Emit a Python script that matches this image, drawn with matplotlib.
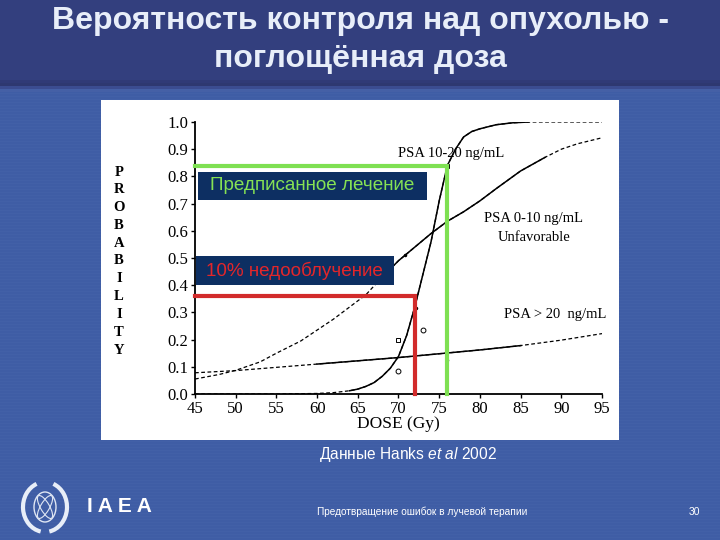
import numpy as np
import matplotlib
matplotlib.use("Agg")
from matplotlib import pyplot as plt
from matplotlib.patches import Rectangle, Ellipse, Arc

plt.rcParams["mathtext.fontset"] = "custom"
plt.rcParams["mathtext.rm"] = "Liberation Sans"
plt.rcParams["mathtext.it"] = "Liberation Sans:italic"

# data
psa_hi_dose = [45, 50, 55, 60, 62, 64, 65, 66, 67, 68, 69, 70, 71, 72, 73, 74,
               75, 76, 77, 78, 79, 80, 82, 84, 86, 90, 95]
psa_hi_prob = [0.0, 0.0, 0.0, 0.002, 0.005, 0.012, 0.018, 0.028, 0.042, 0.065,
               0.095, 0.138, 0.215, 0.32, 0.44, 0.56, 0.71, 0.84, 0.9, 0.945,
               0.965, 0.975, 0.99, 0.997, 1.0, 1.0, 1.0]

psa_unf_dose = [45, 48, 50, 53, 55, 58, 60, 62, 64, 66, 68, 70, 72, 74, 76, 78,
                80, 82, 85, 88, 90, 92, 95]
psa_unf_prob = [0.055, 0.072, 0.087, 0.118, 0.15, 0.195, 0.235, 0.275, 0.32,
                0.365, 0.43, 0.49, 0.54, 0.59, 0.635, 0.67, 0.71, 0.755, 0.82,
                0.87, 0.9, 0.92, 0.942]

psa_gt20_dose = [45, 50, 55, 60, 65, 70, 75, 80, 85, 90, 95]
psa_gt20_prob = [0.078, 0.086, 0.098, 0.11, 0.122, 0.134, 0.148, 0.162, 0.178,
                 0.198, 0.222]

sq_dose = [70, 76]
sq_prob = [0.2, 0.84]
circ_dose = [70, 73]
circ_prob = [0.085, 0.235]
dot_dose = [70.8, 72.1, 76]
dot_prob = [0.51, 0.315, 0.125]

prescribed = (76, 0.84)
underdose = (72, 0.36)

xticks = [45, 50, 55, 60, 65, 70, 75, 80, 85, 90, 95]
yticks = [0.0, 0.1, 0.2, 0.3, 0.4, 0.5, 0.6, 0.7, 0.8, 0.9, 1.0]

W, H = 720, 540
fig = plt.figure(figsize=(7.2, 5.4), dpi=100)
fig.patch.set_facecolor("#3f5da5")


def px(x, y):
    return x / W, 1 - y / H


# slide background bands
bg = fig.add_axes([0, 0, 1, 1])
bg.set_xlim(0, W)
bg.set_ylim(H, 0)
bg.axis("off")
for yy in range(0, H, 3):
    bg.add_patch(Rectangle((0, yy), W, 1, color="#4866ad", lw=0, alpha=0.35))
bg.add_patch(Rectangle((0, 0), W, 80, color="#333f7e", lw=0))
for i, c in enumerate(["#303a76", "#2e3870", "#3b4c90", "#4560a6"]):
    bg.add_patch(Rectangle((0, 80 + i * 3), W, 3, color=c, lw=0))
bg.add_patch(Rectangle((101, 100), 518, 340, color="white", lw=0))

# IAEA logo (rough)
bg.add_patch(Ellipse((45, 507), 22, 30, fill=False, ec="#dfe6f3", lw=1))
bg.add_patch(Ellipse((45, 507), 26, 9, angle=60, fill=False, ec="#dfe6f3", lw=0.8))
bg.add_patch(Ellipse((45, 507), 26, 9, angle=-60, fill=False, ec="#dfe6f3", lw=0.8))
bg.add_patch(Arc((45, 507), 44, 50, theta1=100, theta2=250, ec="#e8eef8", lw=3))
bg.add_patch(Arc((45, 507), 44, 50, theta1=-70, theta2=80, ec="#e8eef8", lw=3))
bg.text(87, 507, "I A E A", color="white", fontsize=15, fontweight="bold",
        family="Liberation Sans", ha="left", va="center")

# titles and footer
fig.text(*px(360, 21), "Вероятность контроля над опухолью -", color="#e8eef9",
         fontsize=23, fontweight="bold", family="Liberation Sans",
         ha="center", va="center")
fig.text(*px(360, 59), "поглощённая доза", color="#e8eef9",
         fontsize=23, fontweight="bold", family="Liberation Sans",
         ha="center", va="center")
fig.text(*px(408, 454), r"Данные Hanks $\it{et\ al}$ 2002", color="white",
         fontsize=11.2, family="Liberation Sans", ha="center", va="center")
fig.text(*px(422, 512), "Предотвращение ошибок в лучевой терапии", color="white",
         fontsize=7.3, family="Liberation Sans", ha="center", va="center")
fig.text(*px(694, 512), "30", color="white", fontsize=7.5,
         family="Liberation Sans", ha="center", va="center")

# main chart
ax = fig.add_axes([195 / W, 1 - 394 / H, (602 - 195) / W, (394 - 122) / H])
ax.set_facecolor("white")
ax.set_xlim(45, 95)
ax.set_ylim(0, 1.0)
ax.spines["top"].set_visible(False)
ax.spines["right"].set_visible(False)
ax.spines["left"].set_linewidth(1.3)
ax.spines["bottom"].set_linewidth(1.3)
ax.set_xticks(xticks)
ax.set_yticks(yticks)
ax.set_xticklabels([str(t) for t in xticks])
ax.set_yticklabels([f"{t:.1f}" for t in yticks])
ax.tick_params(direction="out", length=3, width=1, labelsize=12, pad=2)
for lab in ax.get_xticklabels() + ax.get_yticklabels():
    lab.set_family("Liberation Serif")
ax.set_xlabel("DOSE (Gy)", family="Liberation Serif", fontsize=12.5, labelpad=-1)


def curve(d, p, lo, hi):
    d = np.array(d)
    p = np.array(p)
    ax.plot(d, p, color="black", lw=0.9, ls=(0, (3, 2)))
    m = (d >= lo) & (d <= hi)
    ax.plot(d[m], p[m], color="black", lw=1.1)


curve(psa_hi_dose, psa_hi_prob, 64, 86)
curve(psa_unf_dose, psa_unf_prob, 68, 88)
curve(psa_gt20_dose, psa_gt20_prob, 60, 85)

ax.plot(sq_dose, sq_prob, "s", ms=3.5, mfc="none", mec="black", mew=0.7)
ax.plot(circ_dose, circ_prob, "o", ms=3.5, mfc="none", mec="black", mew=0.7)
ax.plot(dot_dose, dot_prob, ".", ms=3, color="black")

# prescribed / underdose guide lines
ax.plot([45, prescribed[0], prescribed[0]], [prescribed[1], prescribed[1], 0],
        color="#7ee052", lw=3, solid_joinstyle="miter", clip_on=False, zorder=3)
ax.plot([45, underdose[0], underdose[0]], [underdose[1], underdose[1], 0],
        color="#d22b2b", lw=3, solid_joinstyle="miter", clip_on=False, zorder=3)

ax.text(76.5, 0.885, "PSA 10-20 ng/mL", family="Liberation Serif", fontsize=10.5,
        ha="center", va="center")
ax.text(86.6, 0.645, "PSA 0-10 ng/mL", family="Liberation Serif", fontsize=10.5,
        ha="center", va="center")
ax.text(86.6, 0.577, "Unfavorable", family="Liberation Serif", fontsize=10.5,
        ha="center", va="center")
ax.text(89.2, 0.292, "PSA > 20  ng/mL", family="Liberation Serif", fontsize=10.5,
        ha="center", va="center")

# boxed annotations, on an overlay above the chart
ov = fig.add_axes([0, 0, 1, 1])
ov.set_xlim(0, W)
ov.set_ylim(H, 0)
ov.axis("off")
ov.patch.set_alpha(0)
ov.add_patch(Rectangle((198, 172), 229, 28, color="#0d2f62", lw=0))
ov.text(312, 186, "Предписанное лечение", color="#86e254", fontsize=13.6,
        family="Liberation Sans", ha="center", va="center")
ov.add_patch(Rectangle((196, 256), 198, 29, color="#0d2f62", lw=0))
ov.text(294, 271, "10% недооблучение", color="#e3262a", fontsize=13.6,
        family="Liberation Sans", ha="center", va="center")

# stacked PROBABILITY label
for i, ch in enumerate("PROBABILITY"):
    ov.text(119, 172 + i * 17.8, ch, family="Liberation Serif",
            fontsize=10.5, fontweight="bold", ha="center", va="center")

fig.savefig("out.png", dpi=100, facecolor=fig.get_facecolor())
